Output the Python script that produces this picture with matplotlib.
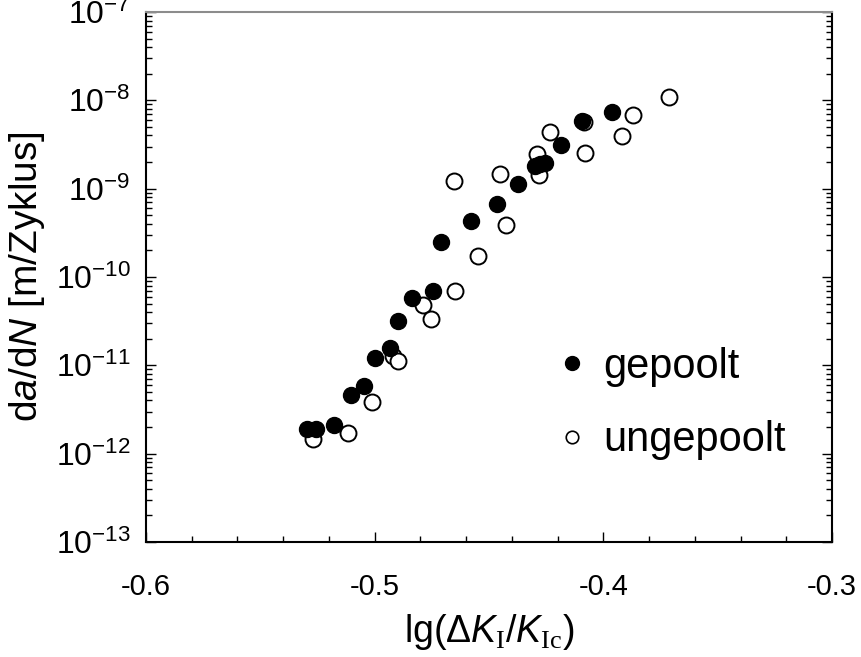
import numpy as np
import matplotlib
matplotlib.use("Agg")
import matplotlib.pyplot as plt
from matplotlib.lines import Line2D
from matplotlib.ticker import MultipleLocator, LogLocator, FuncFormatter, NullFormatter

plt.rcParams["font.family"] = ["Liberation Sans", "DejaVu Sans"]
plt.rcParams["mathtext.fontset"] = "custom"
plt.rcParams["mathtext.rm"] = "Liberation Serif"
plt.rcParams["mathtext.it"] = "Liberation Sans:italic"
plt.rcParams["mathtext.sf"] = "Liberation Sans"
plt.rcParams["mathtext.bf"] = "Liberation Sans:bold"
plt.rcParams["axes.unicode_minus"] = False

# gepoolt (filled)
x_gepoolt = [-0.5298, -0.5255, -0.5179, -0.5102, -0.5045, -0.4997, -0.4934,
             -0.4898, -0.4835, -0.4745, -0.4709, -0.4578, -0.4466, -0.4374,
             -0.4297, -0.4275, -0.4255, -0.4185, -0.4095, -0.3964]
y_gepoolt = [1.89e-12, 1.92e-12, 2.09e-12, 4.6e-12, 5.9e-12, 1.2e-11, 1.56e-11,
             3.18e-11, 5.83e-11, 6.94e-11, 2.51e-10, 4.34e-10, 6.65e-10, 1.13e-9,
             1.81e-9, 1.9e-9, 1.97e-9, 3.12e-9, 5.88e-9, 7.43e-9]

# ungepoolt (open)
x_ungepoolt = [-0.5269, -0.5117, -0.5012, -0.4920, -0.4900, -0.4789, -0.4752,
               -0.4648, -0.4549, -0.4425, -0.4654, -0.4454, -0.4283, -0.4291,
               -0.4233, -0.4082, -0.4086, -0.3920, -0.3872, -0.3712]
y_ungepoolt = [1.47e-12, 1.70e-12, 3.87e-12, 1.28e-11, 1.12e-11, 4.78e-11, 3.32e-11,
               7.0e-11, 1.73e-10, 3.85e-10, 1.23e-9, 1.47e-9, 1.43e-9, 2.47e-9,
               4.35e-9, 2.53e-9, 5.64e-9, 3.98e-9, 6.82e-9, 1.10e-8]

labels = ["gepoolt", "ungepoolt"]

fig = plt.figure(figsize=(8.61, 6.57), dpi=100)
ax = fig.add_axes([146 / 861, 115 / 657, 686 / 861, 530 / 657])

ax.plot(x_ungepoolt, y_ungepoolt, "o", ms=11.5, mfc="white", mec="black", mew=1.4,
        linestyle="none")
ax.plot(x_gepoolt, y_gepoolt, "o", ms=11.5, mfc="black", mec="black", mew=1.0,
        linestyle="none")

ax.set_yscale("log")
ax.set_xlim(-0.6, -0.3)
ax.set_ylim(1e-13, 1e-7)

ax.xaxis.set_major_locator(MultipleLocator(0.1))
ax.xaxis.set_minor_locator(MultipleLocator(0.02))
ax.xaxis.set_major_formatter(FuncFormatter(lambda v, _: f"{v:.1f}"))
ax.yaxis.set_major_locator(LogLocator(base=10, numticks=20))
ax.yaxis.set_minor_locator(LogLocator(base=10, subs=np.arange(2, 10), numticks=20))
ax.yaxis.set_minor_formatter(NullFormatter())
ax.yaxis.set_major_formatter(
    FuncFormatter(lambda v, _: r"$\mathsf{10^{%d}}$" % int(round(np.log10(v)))))

ax.tick_params(axis="both", which="both", direction="in", width=1.0)
ax.tick_params(axis="both", which="major", length=7)
ax.tick_params(axis="both", which="minor", length=4.5)
ax.tick_params(axis="y", which="both", right=True, pad=11, labelsize=23)
ax.tick_params(axis="x", which="both", top=False, pad=22, labelsize=21)

for side in ["left", "bottom", "right"]:
    ax.spines[side].set_linewidth(1.5)
ax.spines["top"].set_linewidth(1.5)
ax.spines["top"].set_color("#8c8c8c")

ax.set_xlabel(r"lg(Δ$K_\mathrm{I}$/$K_\mathrm{Ic}$)", fontsize=27, labelpad=8)
ax.set_ylabel(r"d$a$/d$N$ [m/Zyklus]", fontsize=28, labelpad=6)

handles = [
    Line2D([], [], marker="o", ls="none", ms=10, mfc="black", mec="black"),
    Line2D([], [], marker="o", ls="none", ms=9, mfc="white", mec="black", mew=1.2),
]
ax.legend(handles, labels, loc="upper left", bbox_to_anchor=(0.597, 0.368),
          frameon=False, fontsize=30, handlelength=0.8, handletextpad=0.35,
          labelspacing=0.8, borderpad=0, borderaxespad=0)

fig.savefig("out.png", dpi=100)
